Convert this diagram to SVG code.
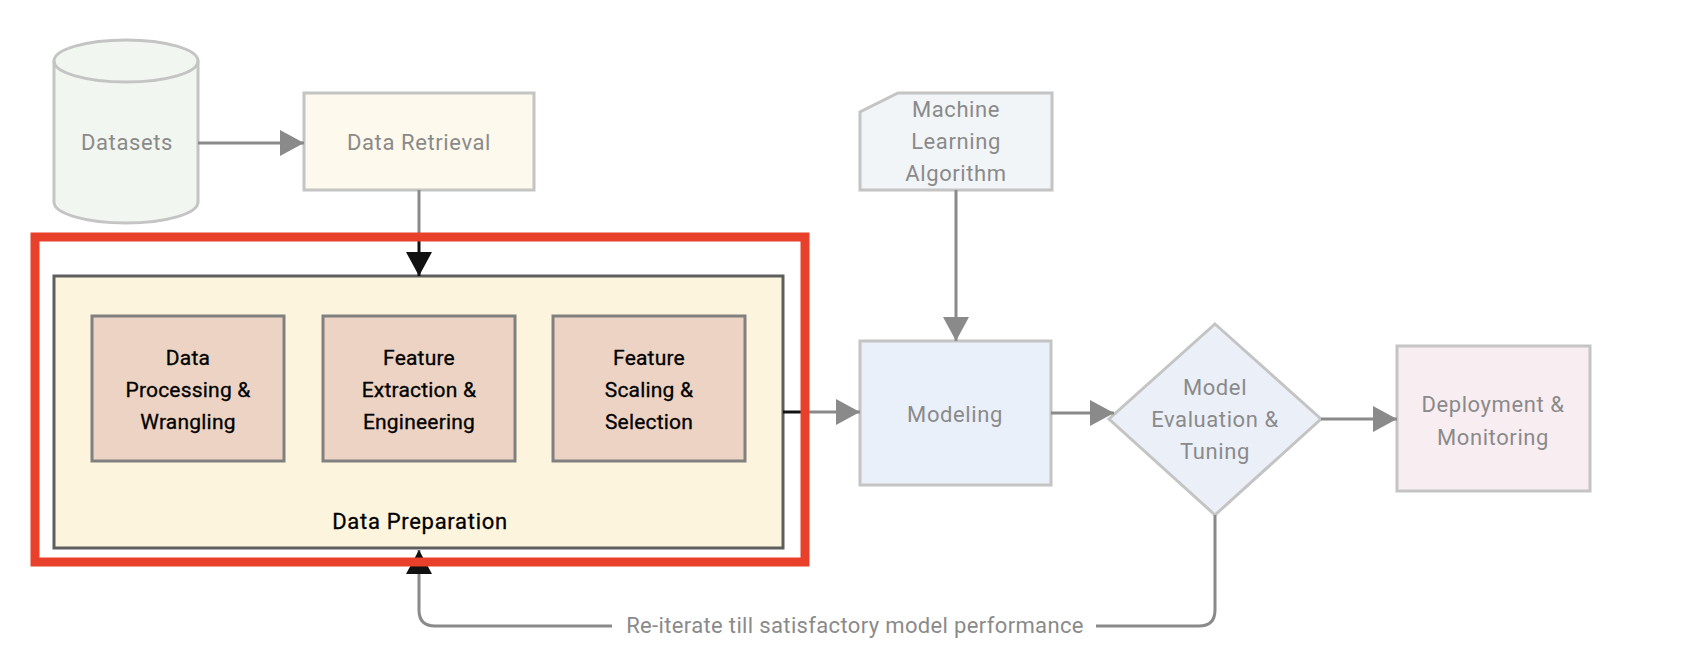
<svg xmlns="http://www.w3.org/2000/svg" width="1682" height="660" viewBox="0 0 1682 660">
<defs>
<marker id="ag" markerUnits="userSpaceOnUse" markerWidth="24" markerHeight="26" refX="24" refY="13" orient="auto"><path d="M0,0 L24,13 L0,26 z" fill="#8a8a8a"/></marker>
<marker id="ab" markerUnits="userSpaceOnUse" markerWidth="24" markerHeight="26" refX="24" refY="13" orient="auto"><path d="M0,0 L24,13 L0,26 z" fill="#111"/></marker>
<style>
.g{font-family:Roboto,"Liberation Sans",sans-serif;font-size:22px;fill:#8a8a8a;text-anchor:middle;letter-spacing:0.6px}
.k{font-family:Roboto,"Liberation Sans",sans-serif;font-size:21px;fill:#000;text-anchor:middle;letter-spacing:0.2px;stroke:#000;stroke-width:0.3px}
.n{stroke:#c4c4c4;stroke-width:3}
.in{fill:#ecd3c3;stroke:#808080;stroke-width:3}
.cg{fill:none;stroke:#8a8a8a;stroke-width:3}
.cb{fill:none;stroke:#111;stroke-width:3}
</style>
</defs>
<rect width="1682" height="660" fill="#fff"/>
<g id="datasets">
<path class="n" d="M54,61 A72,21 0 0 1 198,61 V202 A72,21 0 0 1 54,202 Z" fill="#f1f6f0"/>
<path class="n" d="M54,61 A72,21 0 0 0 198,61" fill="none"/>
<text class="g" x="127" y="150">Datasets</text>
</g>
<g id="data-retrieval">
<rect class="n" x="304" y="93" width="230" height="97" fill="#fdf9ec"/>
<text class="g" x="419" y="150">Data Retrieval</text>
</g>
<g id="ml-algorithm">
<path class="n" d="M898,93 H1052 V190 H860 V112 Z" fill="#f2f5f7"/>
<text class="g" x="956" y="117">Machine</text>
<text class="g" x="956" y="149">Learning</text>
<text class="g" x="956" y="181">Algorithm</text>
</g>
<g id="data-preparation">
<rect x="54" y="276" width="729" height="272" fill="#fdf4de" stroke="#5e5e5e" stroke-width="3"/>
<text class="k" x="420" y="529" style="font-size:22px;letter-spacing:0.7px">Data Preparation</text>
</g>
<g id="data-processing">
<rect class="in" x="92" y="316" width="192" height="145"/>
<text class="k" x="188" y="365">Data</text>
<text class="k" x="188" y="397">Processing &amp;</text>
<text class="k" x="188" y="429">Wrangling</text>
</g>
<g id="feature-extraction">
<rect class="in" x="323" y="316" width="192" height="145"/>
<text class="k" x="419" y="365">Feature</text>
<text class="k" x="419" y="397">Extraction &amp;</text>
<text class="k" x="419" y="429">Engineering</text>
</g>
<g id="feature-scaling">
<rect class="in" x="553" y="316" width="192" height="145"/>
<text class="k" x="649" y="365">Feature</text>
<text class="k" x="649" y="397">Scaling &amp;</text>
<text class="k" x="649" y="429">Selection</text>
</g>
<g id="modeling">
<rect class="n" x="860" y="341" width="191" height="144" fill="#e9f0fa"/>
<text class="g" x="955" y="422">Modeling</text>
</g>
<g id="evaluation">
<path class="n" d="M1215,324 L1321,419 L1215,515 L1109,419 Z" fill="#ebf0f8"/>
<text class="g" x="1215" y="395">Model</text>
<text class="g" x="1215" y="427">Evaluation &amp;</text>
<text class="g" x="1215" y="459">Tuning</text>
</g>
<g id="deployment">
<rect class="n" x="1397" y="346" width="193" height="145" fill="#f8eef2"/>
<text class="g" x="1493" y="412">Deployment &amp;</text>
<text class="g" x="1493" y="445">Monitoring</text>
</g>
<g id="connectors">
<line class="cg" x1="198" y1="143" x2="304" y2="143" marker-end="url(#ag)"/>
<line class="cg" x1="419" y1="190" x2="419" y2="237"/>
<line class="cb" x1="419" y1="237" x2="419" y2="276" marker-end="url(#ab)"/>
<line class="cb" x1="783" y1="412" x2="805" y2="412"/>
<line class="cg" x1="805" y1="412" x2="860" y2="412" marker-end="url(#ag)"/>
<line class="cg" x1="956" y1="190" x2="956" y2="341" marker-end="url(#ag)"/>
<line class="cg" x1="1051" y1="413" x2="1114" y2="413" marker-end="url(#ag)"/>
<line class="cg" x1="1321" y1="419" x2="1397" y2="419" marker-end="url(#ag)"/>
<path class="cg" d="M1215,515 V610 Q1215,626 1199,626 H435 Q419,626 419,610 V550" marker-end="url(#ab)"/>
<rect x="612" y="612" width="484" height="28" fill="#fff"/>
<text class="g" x="855" y="633" style="letter-spacing:0.35px">Re-iterate till satisfactory model performance</text>
</g>
<g id="highlight">
<rect x="35" y="237" width="770" height="325" fill="none" stroke="#e8402a" stroke-width="9"/>
</g>
</svg>
